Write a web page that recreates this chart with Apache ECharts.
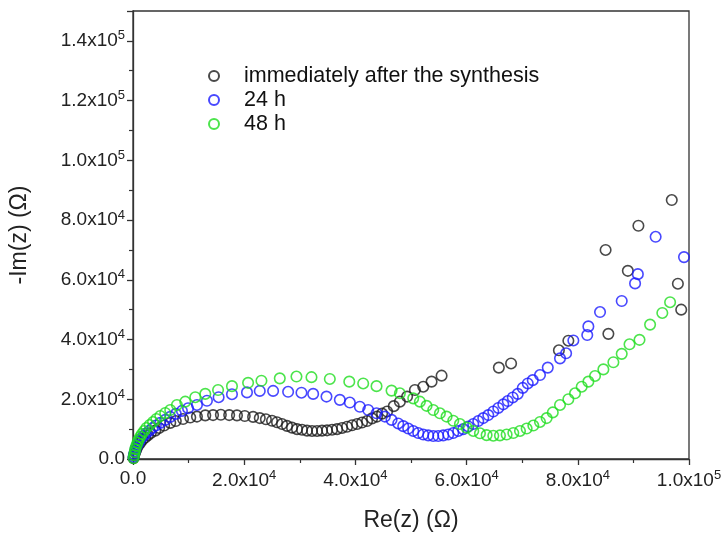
<!DOCTYPE html>
<html>
<head>
<meta charset="utf-8">
<title>Nyquist plot</title>
<script src="https://cdn.jsdelivr.net/npm/echarts@6/dist/echarts.min.js"></script>
<style>
  html, body { margin: 0; padding: 0; background: #fff; }
  #chart { width: 723px; height: 533px; }
</style>
</head>
<body>
<div id="chart"></div>
<script>
// Impedance spectra: real part (Ohm) and negative imaginary part (Ohm)
const seriesNames = ['immediately after the synthesis', '24 h', '48 h'];

const blackRe = [100,200,400,600,900,1300,1700,2200,2700,3200,4000,4700,5600,6700,7700,9000,10300,11500,13000,14400,
  15800,17300,18700,20100,21600,22800,23900,25000,25900,26800,27700,28600,29500,30400,31300,32200,33100,34000,34900,35800,
  36700,37600,38500,39400,40300,41200,42100,43000,43900,44800,45700,46900,48000,49300,50700,52200,53700,55500,
  65800,68000,76600,78300,85500,85000,89000,90900,96900,98000,98600];
const blackIm = [300,1300,2300,3300,4400,5400,6400,7200,8000,8700,9500,10400,11200,12100,12700,13400,13900,14200,14600,14700,
  14800,14700,14600,14400,14100,13700,13300,12800,12300,11700,11100,10500,10000,9800,9500,9400,9400,9500,9600,9800,
  10000,10400,10800,11300,11700,12200,12700,13600,14200,15200,15900,17700,19200,20900,23100,24200,25900,27900,
  30600,32000,36400,39600,41900,70000,63000,78100,86700,58700,50000];

const blueRe = [100,200,400,500,800,1100,1400,1900,2300,2900,3500,4100,4900,5800,6700,7700,8800,9900,11500,13300,
  15400,17800,20500,22800,25200,27900,30300,32400,34800,37200,39000,40800,42300,43800,45300,46500,47700,48600,49500,50400,
  51300,52200,53100,54000,54900,55800,56700,57600,58500,59400,60300,61200,62100,63000,63900,64800,65700,66600,67400,68300,
  69200,70100,71000,71900,73200,74600,76800,77900,79200,81700,81900,84000,87900,90300,90800,94000,99100];
const blueIm = [700,1700,2700,3700,4700,5700,6700,7700,8500,9400,10400,11200,12100,13100,14100,15100,16100,17000,18100,19500,
  20700,21700,22300,22800,22800,22500,22200,21800,20900,19800,18900,17500,16400,15300,14200,13100,11900,11000,10200,9400,
  8700,8200,7900,7700,7700,7900,8200,8700,9400,10000,10900,11700,12700,13700,14700,15900,17100,18300,19400,20600,
  21800,23800,25300,26400,28100,30600,33700,35400,39700,41500,44400,49200,52900,58800,61900,74400,67600];

const greenRe = [100,200,300,400,600,800,1000,1300,1600,2000,2400,3000,3600,4200,4900,5800,6700,7900,9400,11200,
  13000,15300,17800,20700,23100,26400,29400,32100,35400,38900,41400,43800,46500,48000,50400,51600,52800,54000,55200,56400,
  57600,58800,60000,61200,62400,63600,64800,66000,67200,68400,69600,70800,72000,73200,74400,75500,76800,78300,79500,80700,
  81900,83100,84600,86400,87900,89300,91100,93000,95200,96600];
const greenIm = [300,1300,2300,3300,4400,5400,6400,7400,8400,9400,10400,11400,12400,13400,14400,15400,16400,18100,19200,20700,
  21800,23100,24400,25500,26200,27000,27600,27400,26800,25900,25300,24400,22900,22000,20300,19200,17800,16400,15300,14200,
  12800,11700,10500,9400,8600,8000,7800,7900,8200,8700,9400,10200,11200,12400,13700,15600,18100,20000,22000,24200,
  25900,27800,30000,32400,35200,38400,39900,45000,48900,52500];

const seriesColors = ['#1c1c1c', '#1a1aff', '#1fdd1f'];
const FONT = 'Liberation Sans, Arial, sans-serif';

function pairs(re, im) {
  return re.map((x, i) => [x, im[i]]);
}

// "2.0x10^4" style labels with a raised exponent
function sciLabel(v) {
  if (v === 0) return '0.0';
  const e = Math.floor(Math.log10(Math.abs(v)) + 1e-9);
  const m = v / Math.pow(10, e);
  return m.toFixed(1) + 'x10{sup|' + e + '}';
}

const labelRich = {
  sup: { fontSize: 13, fontFamily: FONT, color: '#222', verticalAlign: 'top', padding: [0, 0, 10, 0] }
};

function scatter(name, re, im, color) {
  return {
    name: name,
    type: 'scatter',
    data: pairs(re, im),
    symbol: 'circle',
    symbolSize: 10.5,
    itemStyle: { color: 'rgba(255,255,255,0)', borderColor: color, borderWidth: 1.6 },
    emphasis: { disabled: true }
  };
}

const chart = echarts.init(document.getElementById('chart'), null, { renderer: 'canvas' });
chart.setOption({
  animation: false,
  backgroundColor: '#fff',
  grid: {
    left: 133, right: 34, top: 11, bottom: 74,
    outerBoundsMode: 'none',
    show: true, borderColor: '#333', borderWidth: 1.3, backgroundColor: 'transparent'
  },
  legend: {
    orient: 'vertical',
    left: 203, top: 59,
    itemWidth: 10, itemHeight: 10, itemGap: 0,
    icon: 'circle',
    textStyle: { fontFamily: FONT, fontSize: 21.5, color: '#111', lineHeight: 24, padding: [0, 0, 0, 20] },
    data: seriesNames
  },
  xAxis: {
    type: 'value', min: 0, max: 100000, interval: 20000,
    name: 'Re(z) (\u03A9)', nameLocation: 'middle', nameGap: 50,
    nameTextStyle: { fontFamily: FONT, fontSize: 23, color: '#222' },
    axisLine: { show: true, lineStyle: { color: '#333', width: 1.3 } },
    axisTick: { show: true, inside: false, length: 6, lineStyle: { color: '#333', width: 1.3 } },
    minorTick: { show: true, splitNumber: 2, length: 4, lineStyle: { color: '#333', width: 1.2 } },
    splitLine: { show: false },
    axisLabel: { fontFamily: FONT, fontSize: 19, color: '#222', margin: 10, formatter: sciLabel, rich: labelRich }
  },
  yAxis: {
    type: 'value', min: 0, max: 150000, interval: 20000,
    name: '-Im(z) (\u03A9)', nameLocation: 'middle', nameGap: 102,
    nameTextStyle: { fontFamily: FONT, fontSize: 23, color: '#222' },
    axisLine: { show: true, lineStyle: { color: '#333', width: 1.3 } },
    axisTick: { show: true, inside: false, length: 6, lineStyle: { color: '#333', width: 1.3 } },
    minorTick: { show: true, splitNumber: 2, length: 4, lineStyle: { color: '#333', width: 1.2 } },
    splitLine: { show: false },
    axisLabel: { fontFamily: FONT, fontSize: 19, color: '#222', margin: 8, showMaxLabel: false, formatter: sciLabel, rich: labelRich }
  },
  series: [
    scatter(seriesNames[0], blackRe, blackIm, seriesColors[0]),
    scatter(seriesNames[1], blueRe, blueIm, seriesColors[1]),
    scatter(seriesNames[2], greenRe, greenIm, seriesColors[2])
  ]
});
</script>
</body>
</html>
